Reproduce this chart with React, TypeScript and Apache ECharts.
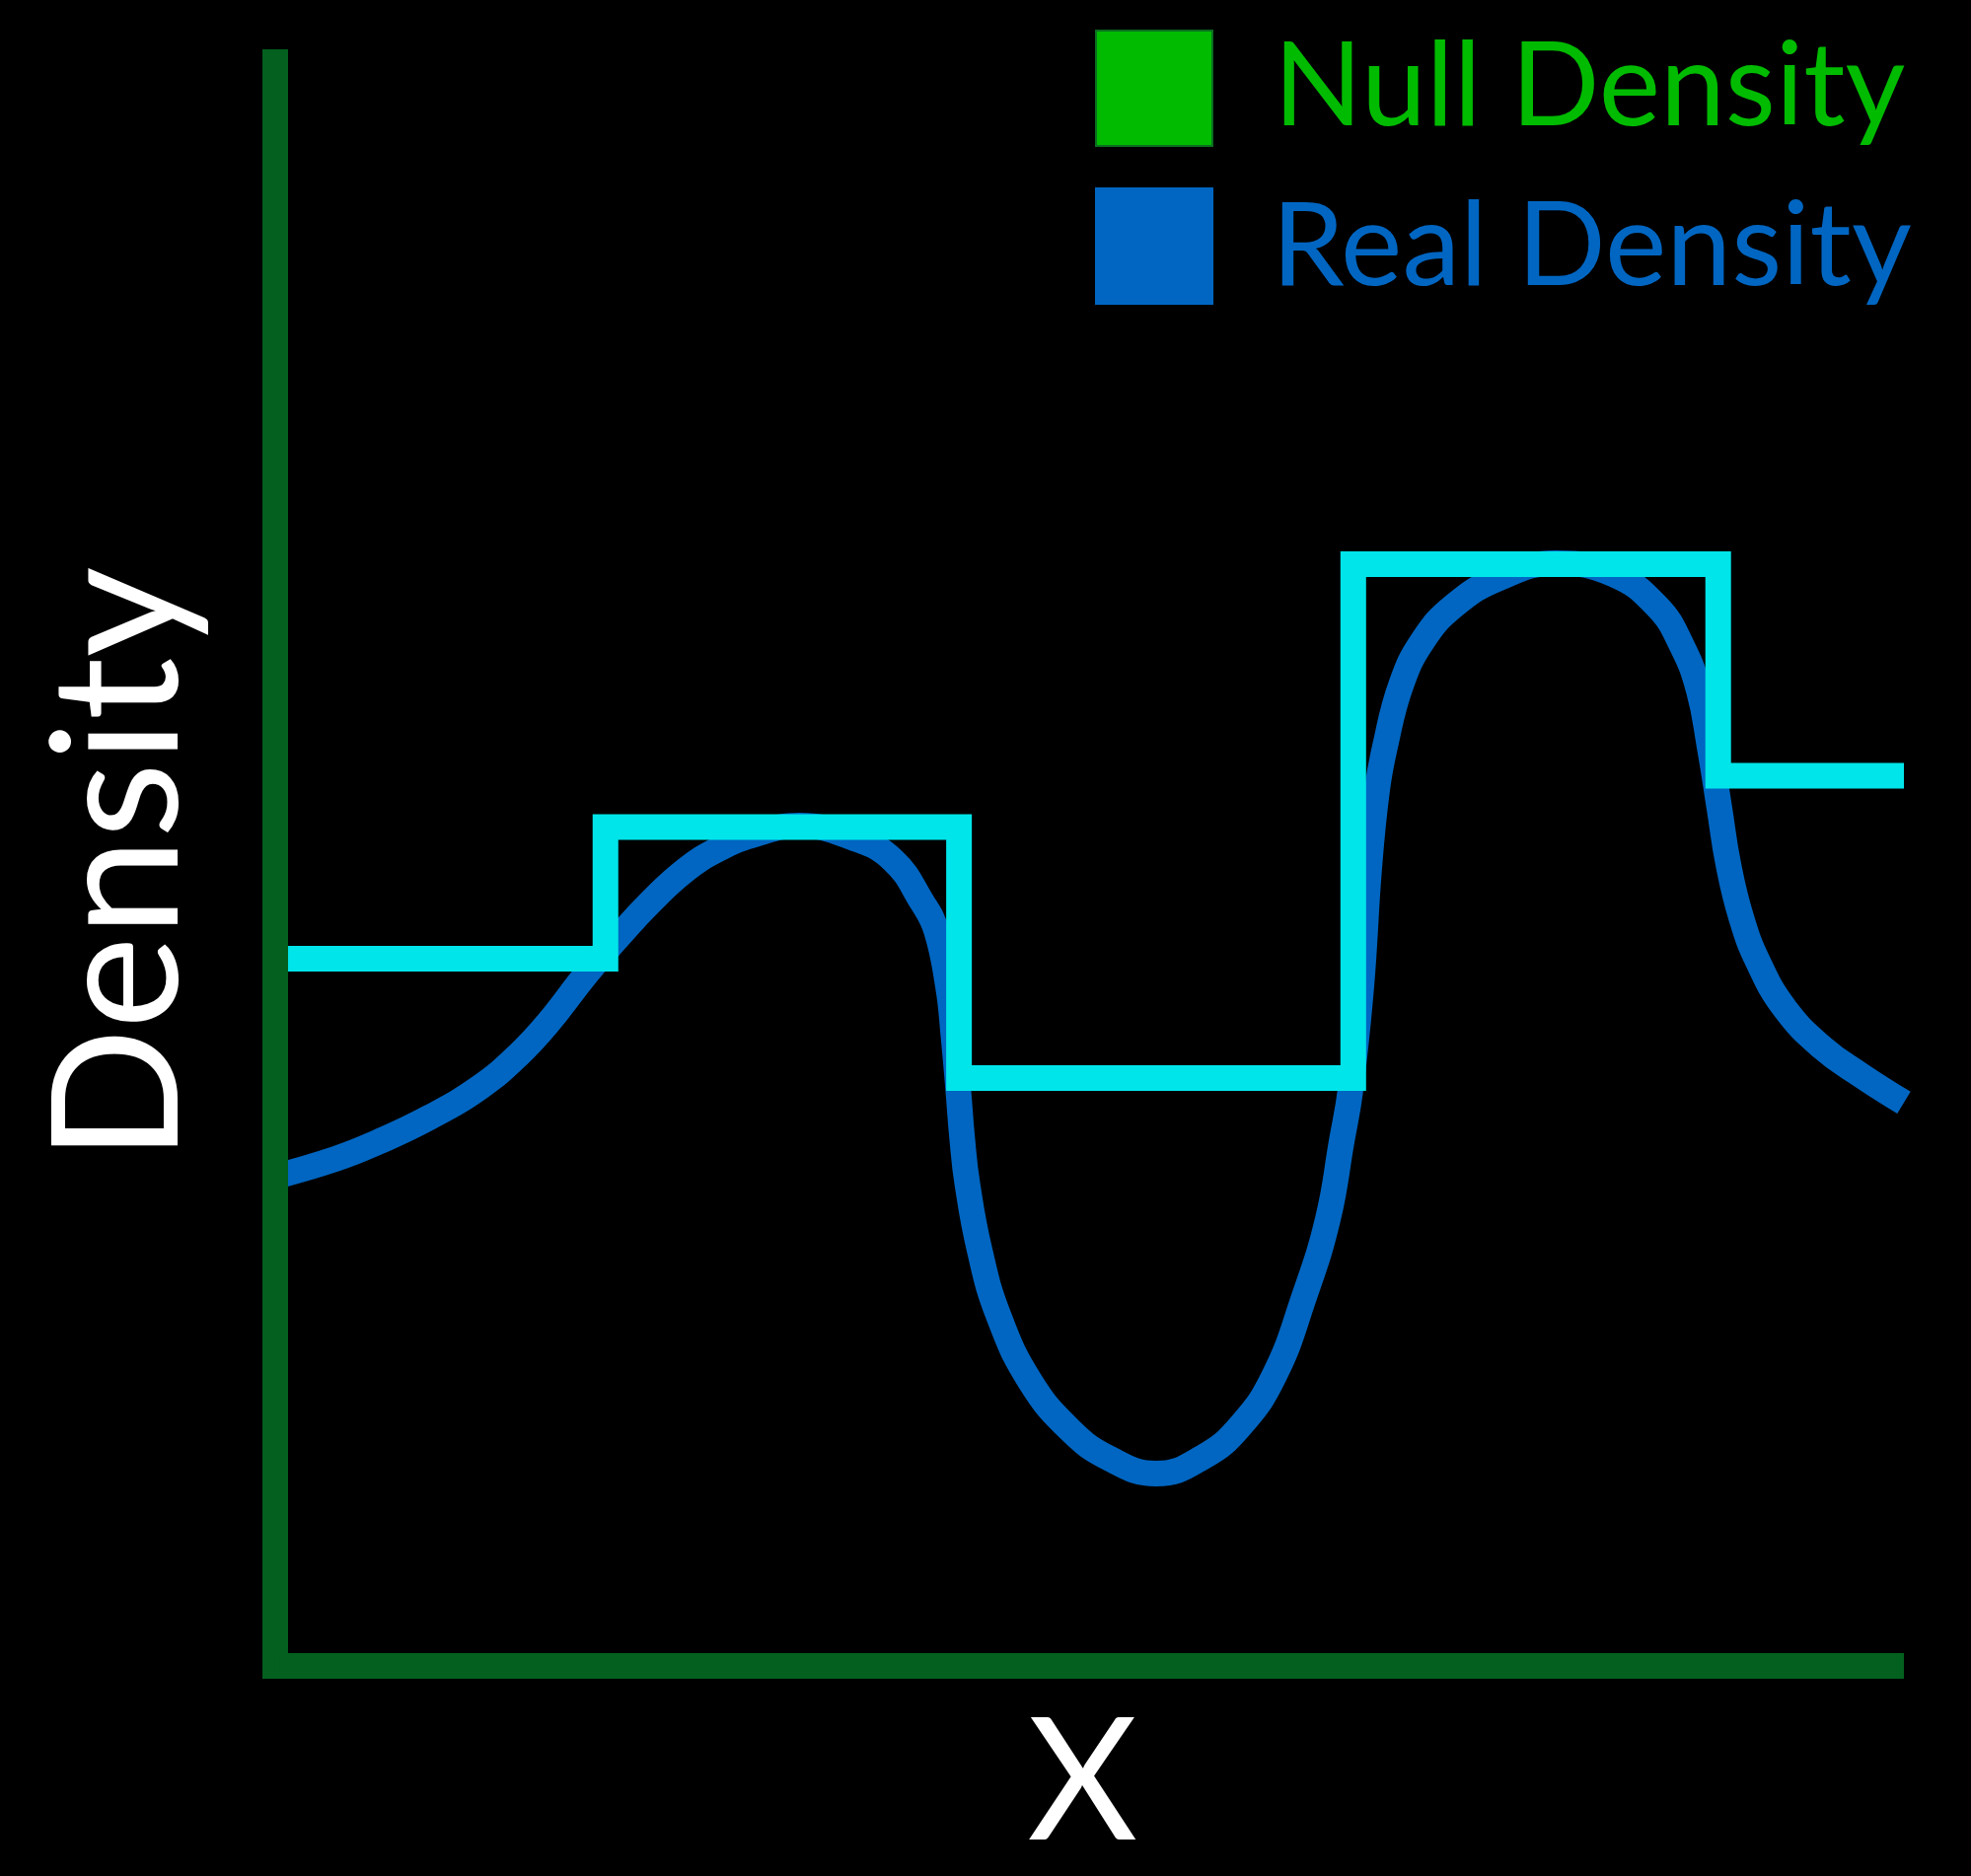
import React, { useEffect, useRef } from "react";
import * as echarts from "echarts";

// Step function ("Null Density") breakpoints, x in 0..100, y in 0..100 density units
const stepX = [0, 20.3, 42.0, 66.2, 88.6, 100];
const stepY = [44.1, 52.3, 36.65, 68.7, 55.5, 55.5];

// Real density curve samples
const realX = [
  0, 3.72, 6.33, 9.48, 12.62, 14.93, 16.74, 19.1, 20.98, 23.04, 25.22, 27.22, 29.46,
  32.18, 35.57, 37.94, 39.75, 40.6, 41.33, 41.66, 41.96, 42.2, 42.51, 43.26, 44.41,
  46.35, 48.83, 51.26, 54.1, 57.01, 59.31, 61.37, 63.18, 64.64, 65.49, 66.03, 66.7,
  67.18, 67.67, 68.15, 69.12, 70.45, 72.39, 75.17, 78.63, 82.14, 84.86, 86.38, 87.41,
  88.07, 88.68, 89.22, 90.01, 91.04, 92.67, 94.98, 97.34, 100,
];
const realY = [
  30.5, 31.61, 32.66, 34.19, 36.1, 38.07, 40.04, 43.11, 45.33, 47.6, 49.63, 50.92, 51.85,
  52.4, 51.6, 50.25, 47.6, 45.88, 42.37, 39.3, 35.85, 32.84, 30.07, 25.95, 21.89,
  17.77, 14.7, 12.92, 11.99, 13.04, 15.01, 18.14, 23.0, 27.86, 32.72, 35.92, 42.44,
  49.75, 54.67, 57.32, 61.13, 63.9, 66.11, 67.84, 68.76, 68.08, 66.05, 63.59, 60.82,
  57.32, 53.44, 50.0, 46.68, 43.91, 41.02, 38.56, 36.84, 35.12,
];

const legendNames = ["Null Density", "Real Density"];
const xAxisName = "X";
const yAxisName = "Density";

const AXIS_COLOR = "#03601f";
const NULL_COLOR = "#00bb00";
const REAL_COLOR = "#0066c2";
const STEP_COLOR = "#00e5ea";
const FONT = 'Lato, "Noto Sans", sans-serif';

export default function App() {
  const ref = useRef<HTMLDivElement>(null);
  useEffect(() => {
    if (!ref.current) return;
    const chart = echarts.init(ref.current, undefined, { renderer: "svg" });
    const stepData = stepX.map((x, i) => [x, stepY[i]]);
    const realData = realX.map((x, i) => [x, realY[i]]);
    const legendFont = { fontFamily: FONT, fontSize: 118 };
    chart.setOption({
      animation: false,
      backgroundColor: "#000000",
      grid: { left: 278.5, right: 68, top: 63, bottom: 213, containLabel: false },
      graphic: [
        {
          type: "rect",
          shape: { x: 1111, y: 31, width: 118, height: 117 },
          style: { fill: NULL_COLOR, stroke: "#0b6e20", lineWidth: 2 },
        },
        {
          type: "text",
          x: 1291,
          y: 81,
          style: { text: legendNames[0], fill: NULL_COLOR, ...legendFont, align: "left", verticalAlign: "middle" },
        },
        {
          type: "rect",
          shape: { x: 1110, y: 190, width: 120, height: 119 },
          style: { fill: REAL_COLOR },
        },
        {
          type: "text",
          x: 1289,
          y: 243,
          style: { text: legendNames[1], fill: REAL_COLOR, ...legendFont, align: "left", verticalAlign: "middle" },
        },
      ],
      xAxis: {
        type: "value",
        min: 0,
        max: 100,
        z: 5,
        name: xAxisName,
        nameLocation: "middle",
        nameGap: 23,
        nameTextStyle: { color: "#ffffff", fontFamily: FONT, fontSize: 172, padding: [0, 14, 0, 0] },
        axisLine: { show: true, lineStyle: { color: AXIS_COLOR, width: 26, cap: "butt" } },
        axisTick: { show: false },
        axisLabel: { show: false },
        splitLine: { show: false },
      },
      yAxis: {
        type: "value",
        min: 0,
        max: 100,
        z: 5,
        name: yAxisName,
        nameLocation: "middle",
        nameGap: 79,
        nameTextStyle: { color: "#ffffff", fontFamily: FONT, fontSize: 178 },
        axisLine: { show: true, lineStyle: { color: AXIS_COLOR, width: 26, cap: "square" } },
        axisTick: { show: false },
        axisLabel: { show: false },
        splitLine: { show: false },
      },
      series: [
        {
          name: legendNames[1],
          type: "line",
          data: realData,
          showSymbol: false,
          symbol: "none",
          smooth: 0.45,
          lineStyle: { color: REAL_COLOR, width: 26, cap: "butt" },
          itemStyle: { color: REAL_COLOR },
          z: 2,
        },
        {
          name: legendNames[0],
          type: "line",
          data: stepData,
          step: "end",
          showSymbol: false,
          symbol: "none",
          lineStyle: { color: STEP_COLOR, width: 26, cap: "butt", join: "miter" },
          itemStyle: { color: NULL_COLOR },
          z: 3,
        },
      ],
    });
    return () => chart.dispose();
  }, []);
  return (
    <div
      ref={ref}
      style={{ position: "fixed", left: 0, top: 0, width: 1998, height: 1902, background: "#000" }}
    />
  );
}
